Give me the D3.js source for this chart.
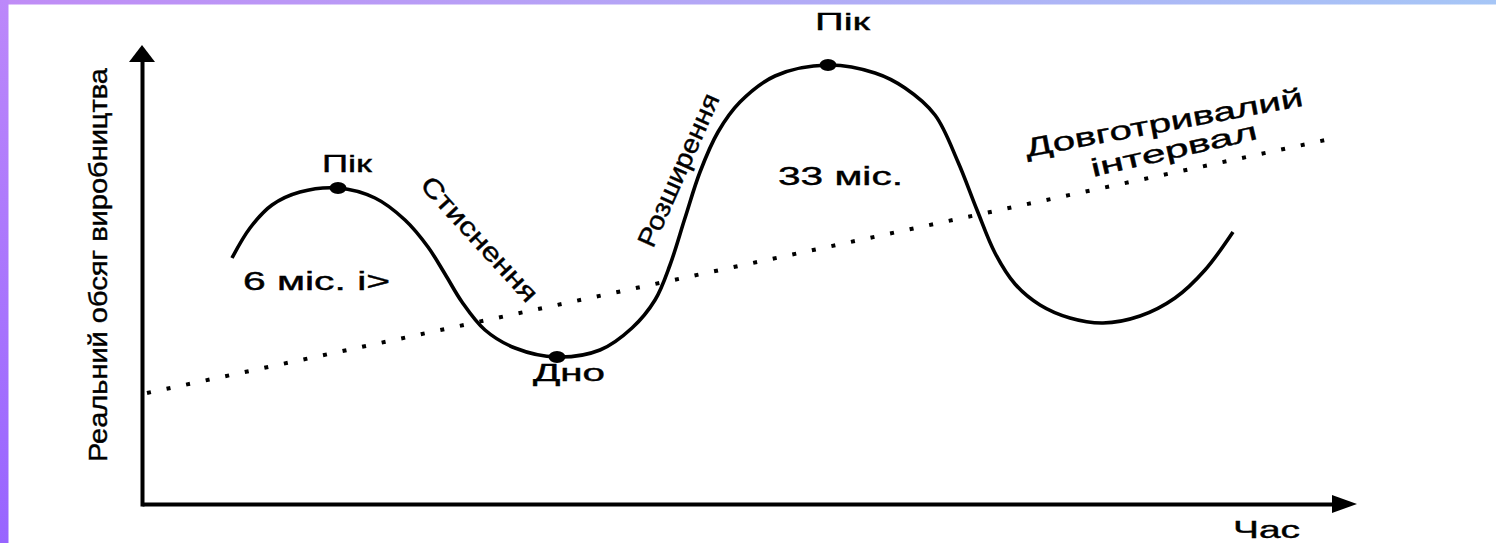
<!DOCTYPE html>
<meta charset="utf-8">
<title>Business cycle</title>
<script src="https://d3js.org/d3.v7.min.js"></script>
<style>
  html, body { margin: 0; padding: 0; background: #fff; }
  text { font-family: "Liberation Sans", Arial, sans-serif; fill: #000; stroke: #000; stroke-width: 0.4px; }
</style>
<body>
<div id="chart"></div>
<script>
  // business cycle curve (time, real output) in chart units
  const cycleTime = [9.0, 10.8, 13.0, 15.8, 19.6, 23.3, 26.3, 28.6, 30.3, 32.0, 34.3, 37.3, 41.5,
    45.8, 49.0, 51.3, 52.8, 54.3, 55.8, 57.6, 59.8, 63.3, 68.6, 73.3, 76.3, 79.3, 81.6, 83.5,
    85.3, 87.3, 89.8, 92.8, 96.1, 99.8, 103.3, 106.3, 109.1];
  const cycleOutput = [24.6, 27.6, 29.9, 31.2, 31.6, 30.6, 28.4, 25.7, 23.0, 20.2, 17.4, 15.6, 14.7,
    15.4, 17.6, 20.4, 23.9, 28.6, 33.2, 37.2, 40.2, 42.8, 43.9, 43.1, 41.6, 38.9, 34.2, 29.4,
    25.1, 22.0, 19.9, 18.6, 18.1, 18.8, 20.6, 23.4, 27.2];

  // turning points: peak, trough, peak
  const turnTime = [19.6, 41.5, 68.6];
  const turnOutput = [31.6, 14.7, 43.9];

  // long-run trend (start, end)
  const trendTime = [0.5, 119.3];
  const trendOutput = [11.1, 36.6];

  const W = 1496, H = 543;

  const svg = d3.select("#chart").append("svg")
    .attr("width", W)
    .attr("height", H);

  const defs = svg.append("defs");
  const gTop = defs.append("linearGradient").attr("id", "gTop");
  gTop.append("stop").attr("offset", "0%").attr("stop-color", "#c08cf6");
  gTop.append("stop").attr("offset", "100%").attr("stop-color", "#a6c6f6");
  const gLeft = defs.append("linearGradient").attr("id", "gLeft")
    .attr("x1", 0).attr("y1", 0).attr("x2", 0).attr("y2", 1);
  gLeft.append("stop").attr("offset", "0%").attr("stop-color", "#bc88fa");
  gLeft.append("stop").attr("offset", "100%").attr("stop-color", "#9864ff");

  svg.append("rect").attr("width", W).attr("height", H).attr("fill", "#fff");
  svg.append("rect").attr("x", 0).attr("y", 0).attr("width", W).attr("height", 4.5).attr("fill", "url(#gTop)");
  svg.append("rect").attr("x", 0).attr("y", 0).attr("width", 8.5).attr("height", H).attr("fill", "url(#gLeft)");

  const x = d3.scaleLinear().domain([0, 121.4]).range([142, 1356]);
  const y = d3.scaleLinear().domain([0, 45.8]).range([504, 46]);

  // axes without ticks
  svg.append("g")
    .attr("transform", `translate(0,${y(0)})`)
    .call(d3.axisBottom(x.copy().range([142, 1336])).tickValues([]).tickSizeOuter(0));
  svg.append("g")
    .attr("transform", `translate(${x(0)},0)`)
    .call(d3.axisLeft(y.copy().range([506, 60])).tickValues([]).tickSizeOuter(0));
  svg.selectAll(".domain").attr("stroke", "#000").attr("stroke-width", 4);

  // arrow heads
  svg.append("path")
    .attr("d", `M${x(121.5)},${y(0)} L${x(121.5) - 25},${y(0) - 9} L${x(121.5) - 25},${y(0) + 9} Z`)
    .attr("fill", "#000");
  svg.append("path")
    .attr("d", `M${x(0)},${y(45.9)} L${x(0) - 13},${y(45.9) + 17} L${x(0) + 13},${y(45.9) + 17} Z`)
    .attr("fill", "#000");

  // trend line
  svg.append("line")
    .attr("x1", x(trendTime[0])).attr("y1", y(trendOutput[0]))
    .attr("x2", x(trendTime[1])).attr("y2", y(trendOutput[1]))
    .attr("stroke", "#000")
    .attr("stroke-width", 4)
    .attr("stroke-dasharray", "4 16");

  // cycle
  const pts = cycleTime.map((t, i) => [t, cycleOutput[i]]);
  svg.append("path")
    .datum(pts)
    .attr("fill", "none")
    .attr("stroke", "#000")
    .attr("stroke-width", 3.6)
    .attr("d", d3.line().x(d => x(d[0])).y(d => y(d[1])).curve(d3.curveCatmullRom.alpha(0.5)));

  svg.selectAll(".turn")
    .data(turnTime)
    .join("ellipse")
    .attr("class", "turn")
    .attr("cx", d => x(d))
    .attr("cy", (d, i) => y(turnOutput[i]))
    .attr("rx", 8.5)
    .attr("ry", 6)
    .attr("fill", "#000");

  // labels: text, px position, rotation, font size, stretched length
  function label(txt, px, py, rot, size, len, anchor) {
    const t = svg.append("text")
      .attr("transform", `translate(${px},${py}) rotate(${rot})`)
      .attr("text-anchor", anchor || "start")
      .style("font-size", size + "px")
      .text(txt);
    if (len) t.attr("textLength", len).attr("lengthAdjust", "spacingAndGlyphs");
    return t;
  }

  label("Пік", x(turnTime[0]) - 16, 172, 0, 24, 50);
  label("Пік", x(turnTime[2]) - 13, 30, 0, 24, 55);
  label("Дно", x(turnTime[1]) - 24, 381, 0, 23, 72);
  label("6 міс. і>", 243, 290, 0, 25, 147);
  label("33 міс.", 778, 185, 0, 26, 125);
  label("Стиснення", 419, 186, 47.5, 26, 160);
  label("Розширення", 653, 249, -66, 26, 165);
  label("Довготривалий", 1027, 157, -10.5, 26, 282);
  label("інтервал", 1093, 177, -13, 25, 170);
  label("Час", 1233, 538, 0, 23, 67);
  label("Реальний обсяг виробництва", 107, 265, -90, 26, 394, "middle");
</script>
</body>
